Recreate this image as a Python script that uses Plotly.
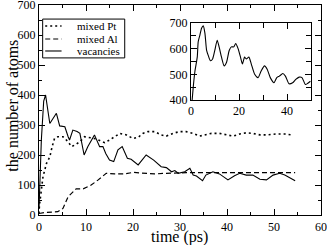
import plotly.graph_objects as go

# ---- data ----
vac_t = [0, 0.5, 1.0, 1.4, 2.3, 3.7, 4.4, 5.5, 6.2, 6.5, 7.2, 8.1, 8.7, 9.6, 10.4, 11.8, 12.9,
         13.6, 14.2, 15.0, 15.9, 16.8, 17.7, 18.8, 19.6, 21.1, 22.8, 24.4, 26.0, 27.1, 28.2,
         28.9, 29.6, 31.0, 32.1, 32.8, 33.5, 34.8, 35.5, 37.0, 38.4, 40.2, 41.6, 42.7, 44.1,
         45.5, 47.0, 48.4, 49.8, 51.2, 52.3, 54.5]
vac_n = [20, 250, 380, 400, 305, 339, 297, 294, 261, 250, 283, 278, 272, 200, 228, 267, 228,
         228, 205, 183, 178, 217, 228, 189, 186, 167, 200, 183, 161, 158, 144,
         148, 139, 144, 156, 133, 130, 114, 133, 144, 137, 117, 131, 139, 133,
         133, 119, 117, 133, 139, 133, 114]

pt_t = [0, 0.1, 0.5, 0.85, 1.6, 2.3, 2.8, 3.3, 4.0, 5.1, 6.2, 6.9, 7.6, 8.7, 9.7, 10.8, 11.8,
        12.9, 14.0, 15.0, 16.1, 17.2, 18.6, 20.0, 21.1, 22.1, 23.2, 24.6, 26.0, 27.1, 28.5,
        29.9, 31.3, 32.8, 34.2, 35.2, 36.7, 38.4, 39.9, 41.3, 42.7, 44.1, 45.5, 47.0, 48.4,
        50.5, 52.3, 53.7]
pt_n = [5, 33, 83, 128, 172, 194, 228, 255, 261, 261, 244, 228, 233, 244, 261, 258, 255,
        248, 241, 250, 261, 272, 267, 255, 259, 272, 278, 278, 267, 263, 272,
        278, 278, 272, 263, 267, 272, 272, 267, 263, 270, 274, 272, 267, 267,
        270, 270, 267]

al_t = [0, 1.2, 4.0, 5.1, 6.2, 6.9, 7.9, 9.4, 11.1, 12.6, 14.3, 16.1, 18.2, 20.0, 22.1, 24.6,
        27.1, 29.2, 31.3, 34.2, 37.0, 39.9, 42.7, 45.5, 48.4, 51.9, 54.5]
al_n = [5, 8, 11, 22, 61, 72, 87, 87, 100, 117, 139, 137, 137, 142, 139, 137,
        139, 141, 141, 141, 141, 141, 139, 139, 139, 141, 141]

inset_t = [0.3, 0.96, 1.65, 2.6, 3.0, 3.7, 4.4, 5.1, 5.8, 6.5, 7.2, 8.1, 9.0, 9.9, 10.9, 11.7,
           12.7, 13.8, 14.8, 15.9, 16.8, 17.8, 18.6, 19.6, 20.6, 21.4, 22.3, 23.0, 24.1, 25.1,
           26.5, 27.9, 29.2, 30.6, 31.7, 33.0, 34.5, 35.7, 36.8, 38.2, 39.3, 40.8, 42.3, 43.6,
           45.0, 46.2, 47.6, 48.5, 49.7]
inset_n = [380, 453, 513, 567, 627, 653, 680, 689, 660, 593, 573, 553, 560, 593, 633, 607,
           567, 533, 547, 593, 607, 607, 620, 600, 567, 540, 567, 560, 567, 540,
           500, 487, 513, 533, 520, 487, 467, 487, 493, 503, 493, 463, 467, 480,
           489, 487, 460, 464, 473]

legend_names = ["mixed Pt", "mixed Al", "vacancies"]
legend_dashes = ["2px,3px", "5px,3px", "solid"]
x_title = "time (ps)"
y_title = "the number of atoms"

FONT = "Liberation Serif"
fig = go.Figure()

fig.add_trace(go.Scatter(x=pt_t, y=pt_n, mode="lines", name=legend_names[0],
                         line=dict(color="black", width=1.6, dash=legend_dashes[0]),
                         showlegend=False))
fig.add_trace(go.Scatter(x=al_t, y=al_n, mode="lines", name=legend_names[1],
                         line=dict(color="black", width=1.2, dash=legend_dashes[1]),
                         showlegend=False))
fig.add_trace(go.Scatter(x=vac_t, y=vac_n, mode="lines", name=legend_names[2],
                         line=dict(color="black", width=1.1),
                         showlegend=False))
fig.add_trace(go.Scatter(x=inset_t, y=inset_n, mode="lines", name="vacancies (inset)",
                         line=dict(color="black", width=1.1, shape="spline", smoothing=0.6),
                         xaxis="x2", yaxis="y2", showlegend=False))

axis_common = dict(showline=True, linecolor="black", linewidth=1.2, mirror="ticks",
                   ticks="inside", ticklen=6, tickcolor="black", tickwidth=1,
                   showgrid=False, zeroline=False, automargin=False,
                   ticklabeloverflow="allow",
                   tickfont=dict(family=FONT, size=12, color="black"))

fig.update_layout(
    width=327, height=245,
    margin=dict(l=39, r=6, t=5, b=30),
    paper_bgcolor="white", plot_bgcolor="white",
    xaxis=dict(range=[0, 60], dtick=10, minor=dict(dtick=5, ticks="inside", ticklen=3, tickcolor="black"),
               **axis_common),
    yaxis=dict(range=[0, 700], dtick=100, minor=dict(dtick=50, ticks="inside", ticklen=3, tickcolor="black"),
               **axis_common),
    xaxis2=dict(domain=[0.539, 0.965], anchor="y2", range=[0, 50], dtick=20,
                minor=dict(dtick=10, ticks="inside", ticklen=5, tickcolor="black"),
                **axis_common),
    yaxis2=dict(domain=[0.548, 0.914], anchor="x2", range=[400, 700], dtick=100,
                minor=dict(dtick=50, ticks="inside", ticklen=5, tickcolor="black"),
                **axis_common),
    showlegend=False,
)

# axis titles placed as text to match the tight reference spacing
fig.add_annotation(x=0.499, y=-0.105, xref="paper", yref="paper", text=x_title, showarrow=False,
                   xanchor="center", yanchor="middle", font=dict(family=FONT, size=16, color="black"))
fig.add_annotation(x=-0.097, y=0.519, xref="paper", yref="paper", text=y_title, showarrow=False,
                   textangle=-90, xanchor="center", yanchor="middle",
                   font=dict(family=FONT, size=16, color="black"))

# legend box drawn manually to match the compact reference layout
fig.add_shape(type="rect", xref="paper", yref="paper", x0=0.013, x1=0.304, y0=0.748, y1=0.933,
              line=dict(color="black", width=1), fillcolor="white", layer="above")
rows = [0.9, 0.838, 0.781]
widths = [1.6, 1.2, 1.1]
for name, dash, yy, w in zip(legend_names, legend_dashes, rows, widths):
    fig.add_shape(type="line", xref="paper", yref="paper", x0=0.022, x1=0.08, y0=yy, y1=yy,
                  line=dict(color="black", width=w, dash=dash))
    fig.add_annotation(x=0.128, y=yy, xref="paper", yref="paper", text=name, showarrow=False,
                       xanchor="left", yanchor="middle",
                       font=dict(family=FONT, size=11, color="black"))

fig.write_html("out.html", config={"displayModeBar": False},
               post_script="document.body.style.margin='0';document.body.style.overflow='hidden';")
